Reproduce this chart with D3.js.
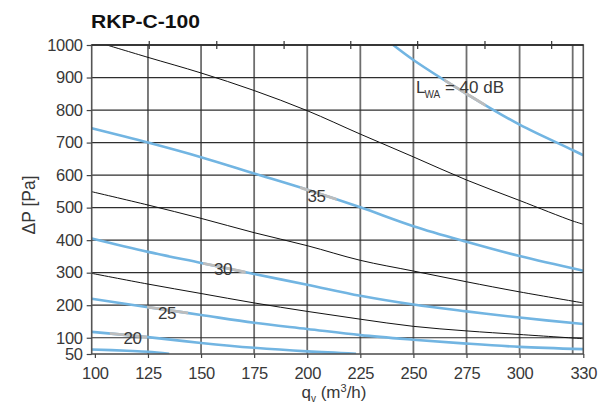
<!DOCTYPE html>
<html>
<head>
<meta charset="utf-8">
<script src="https://cdn.jsdelivr.net/npm/d3@7"></script>
<style>
  html, body { margin: 0; padding: 0; background: #fff; }
  svg { display: block; font-family: "Liberation Sans", Arial, sans-serif; }
</style>
</head>
<body>
<svg id="chart" width="602" height="415"></svg>
<script>
// ---------- data ----------
const title = "RKP-C-100";
const xDomain = [98.5, 330];
const yDomain = [50, 1000];
const xTickLabels = [100, 125, 150, 175, 200, 225, 250, 275, 300, 330];
const xGridValues = [125, 150, 175, 200, 225, 250, 275, 300, 325];
const yTickLabels = [50, 100, 200, 300, 400, 500, 600, 700, 800, 900, 1000];
const yGridValues = [100, 200, 300, 400, 500, 600, 700, 800, 900];
const topTickValues = [125.6, 157.4, 189.1, 220.5, 252.0, 283.7, 315.1];

// sound power level curves (blue), [qv, dP]
const lwa15 = [[98.5, 64], [115, 60], [125, 57], [135, 51]];
const lwa20 = [[98.5, 118], [125, 102], [150, 84], [175, 69], [200, 58], [223, 51]];
const lwa25 = [[98.5, 220], [125, 194], [150, 170], [175, 146], [200, 127], [225, 108], [250, 94], [275, 82], [300, 72], [330, 65]];
const lwa30 = [[98.5, 405], [125, 364], [150, 330], [175, 296], [200, 263], [225, 229], [250, 202], [275, 181], [300, 162], [330, 142]];
const lwa35 = [[98.5, 744], [125, 700], [150, 655], [175, 605], [200, 555], [225, 501], [250, 443], [275, 395], [300, 351], [330, 306]];
const lwa40 = [[240.5, 1000], [250, 954], [275, 850], [300, 755], [325, 677], [330, 661]];

// damper curves (black), [qv, dP]
const damperA = [[105.6, 1000], [125, 962], [150, 914], [175, 860], [200, 798], [225, 726], [250, 656], [275, 585], [300, 522], [325, 459], [330, 449]];
const damperB = [[98.5, 549], [125, 508], [150, 467], [175, 423], [200, 383], [225, 338], [250, 305], [275, 272], [300, 241], [330, 207]];
const damperC = [[98.5, 298], [125, 265], [150, 236], [175, 207], [200, 181], [225, 157], [250, 135], [275, 121], [300, 110], [330, 97]];

// curve labels: text, label centre [qv, dP], grey span on curve [q0, q1]
const labelTexts = ["20", "25", "30", "35"];
const labelPos = [[117.7, 99], [134.0, 176], [160.3, 311], [204.4, 533]];
const labelSpans = [[107, 124.6], [124.6, 143.9], [151, 171], [196.6, 213.9]];
const lwaLabelPos = [251.2, 871];
const lwaLabelSpan = [264.5, 284];

// ---------- drawing ----------
const svg = d3.select("#chart");
const pL = 91.7, pR = 583.3, pT = 45, pB = 354;
const x = d3.scaleLinear().domain(xDomain).range([pL, pR]);
const y = d3.scaleLinear().domain(yDomain).range([pB, pT]);

const line = d3.line().x(d => x(d[0])).y(d => y(d[1])).curve(d3.curveCatmullRom.alpha(0.5));

const textColor = "#383838";
const blue = "#72b5e2";
const labelGrey = "#bdbdbd";

// title
svg.append("text")
  .attr("x", 91).attr("y", 27.5)
  .attr("font-size", 18).attr("font-weight", "bold")
  .attr("fill", "#111")
  .attr("textLength", 109).attr("lengthAdjust", "spacingAndGlyphs")
  .text(title);

// grid
const grid = svg.append("g");
grid.selectAll("line.v").data(xGridValues).enter().append("line")
  .attr("x1", d => x(d)).attr("x2", d => x(d))
  .attr("y1", pT).attr("y2", pB)
  .attr("stroke", "#6e6e6e").attr("stroke-width", 1.8);
grid.selectAll("line.h").data(yGridValues).enter().append("line")
  .attr("x1", pL).attr("x2", pR)
  .attr("y1", d => y(d)).attr("y2", d => y(d))
  .attr("stroke", "#2e2e2e").attr("stroke-width", 1.2);

// clip paths for grey label spans
const defs = svg.append("defs");
function spanClip(id, span) {
  defs.append("clipPath").attr("id", id).append("rect")
    .attr("x", x(span[0])).attr("width", x(span[1]) - x(span[0]))
    .attr("y", pT - 5).attr("height", pB - pT + 10);
}
defs.append("clipPath").attr("id", "plotClip").append("rect")
  .attr("x", pL).attr("y", pT).attr("width", pR - pL).attr("height", pB - pT);

const curves = svg.append("g").attr("clip-path", "url(#plotClip)");

// damper curves
[damperA, damperB, damperC].forEach(c => {
  curves.append("path").datum(c).attr("d", line)
    .attr("fill", "none").attr("stroke", "#111").attr("stroke-width", 1);
});

// sound curves
const blueCurves = [lwa15, lwa20, lwa25, lwa30, lwa35, lwa40];
blueCurves.forEach(c => {
  curves.append("path").datum(c).attr("d", line)
    .attr("fill", "none").attr("stroke", blue).attr("stroke-width", 2.6)
    .attr("stroke-linecap", "butt");
});

// grey segments under labels
const labelled = [lwa20, lwa25, lwa30, lwa35];
labelled.forEach((c, i) => {
  spanClip("span" + i, labelSpans[i]);
  curves.append("path").datum(c).attr("d", line)
    .attr("clip-path", "url(#span" + i + ")")
    .attr("fill", "none").attr("stroke", labelGrey).attr("stroke-width", 2.8);
});
spanClip("span40", lwaLabelSpan);
curves.append("path").datum(lwa40).attr("d", line)
  .attr("clip-path", "url(#span40)")
  .attr("fill", "none").attr("stroke", labelGrey).attr("stroke-width", 2.8);

// frame
svg.append("rect")
  .attr("x", pL).attr("y", pT).attr("width", pR - pL).attr("height", pB - pT)
  .attr("fill", "none").attr("stroke", "#555").attr("stroke-width", 1.6);
svg.append("line")
  .attr("x1", pL).attr("x2", pR).attr("y1", pT).attr("y2", pT)
  .attr("stroke", "#222").attr("stroke-width", 1.4);

// top ticks
svg.append("g").selectAll("line").data(topTickValues).enter().append("line")
  .attr("x1", d => x(d)).attr("x2", d => x(d))
  .attr("y1", pT - 4).attr("y2", pT + 4)
  .attr("stroke", "#333").attr("stroke-width", 1.2);

// y axis
const yAxis = d3.axisLeft(y).tickValues(yTickLabels).tickSize(5).tickPadding(4).tickFormat(d3.format("d"));
const yG = svg.append("g").attr("transform", `translate(${pL},0)`).call(yAxis);
yG.select(".domain").remove();
yG.selectAll(".tick line").attr("stroke", "#444").attr("stroke-width", 1.2);
yG.selectAll(".tick text").attr("font-size", 16.5).attr("fill", textColor)
  .attr("font-family", "Liberation Sans, Arial, sans-serif").attr("letter-spacing", -0.3);

// x axis
const xAxis = d3.axisBottom(x).tickValues(xTickLabels).tickSize(4).tickPadding(9).tickFormat(d3.format("d"));
const xG = svg.append("g").attr("transform", `translate(0,${pB})`).call(xAxis);
xG.select(".domain").remove();
xG.selectAll(".tick line").attr("stroke", "#444").attr("stroke-width", 1.2);
xG.selectAll(".tick text").attr("font-size", 16.5).attr("fill", textColor)
  .attr("font-family", "Liberation Sans, Arial, sans-serif").attr("letter-spacing", -0.3);

// axis titles
svg.append("text")
  .attr("transform", "translate(35,205) rotate(-90)")
  .attr("text-anchor", "middle")
  .attr("font-size", 17.5).attr("fill", textColor)
  .text("ΔP [Pa]");

const xt = svg.append("text")
  .attr("x", 334).attr("y", 398)
  .attr("text-anchor", "middle")
  .attr("font-size", 17).attr("fill", textColor);
xt.append("tspan").text("q");
xt.append("tspan").attr("font-size", 10).attr("dy", 4).text("v");
xt.append("tspan").attr("dy", -4).text(" (m");
xt.append("tspan").attr("font-size", 11).attr("dy", -6).text("3");
xt.append("tspan").attr("dy", 6).text("/h)");

// curve labels
svg.append("g").selectAll("text").data(labelTexts).enter().append("text")
  .attr("x", (d, i) => x(labelPos[i][0]))
  .attr("y", (d, i) => y(labelPos[i][1]))
  .attr("text-anchor", "middle").attr("dominant-baseline", "central")
  .attr("font-size", 17).attr("fill", textColor).attr("letter-spacing", -0.5)
  .text(d => d);

const lt = svg.append("text")
  .attr("x", x(lwaLabelPos[0])).attr("y", y(lwaLabelPos[1]) + 6)
  .attr("font-size", 17).attr("fill", textColor);
lt.append("tspan").text("L");
lt.append("tspan").attr("font-size", 10).attr("dy", 5).attr("dx", -1).text("WA");
lt.append("tspan").attr("dy", -5).text(" = 40 dB");
</script>
</body>
</html>
